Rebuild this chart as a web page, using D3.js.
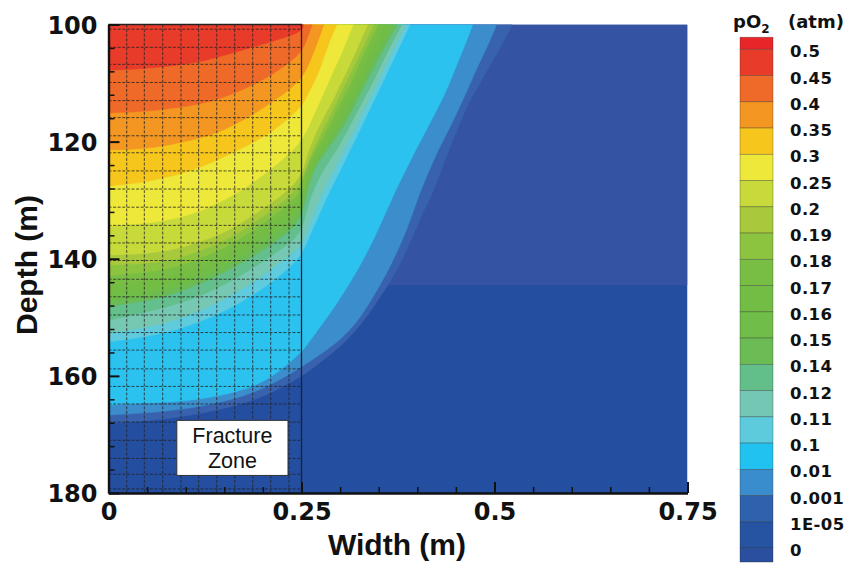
<!DOCTYPE html>
<html>
<head>
<meta charset="utf-8">
<script src="https://cdn.jsdelivr.net/npm/d3@7"></script>
<style>
  html, body { margin: 0; padding: 0; background: #fff; }
  svg { display: block; }
  .num { font-family: "DejaVu Sans", sans-serif; font-weight: bold; fill: #111; }
  .ttl { font-family: "Liberation Sans", Arial, sans-serif; font-weight: bold; fill: #111; }
  .note { font-family: "Liberation Sans", Arial, sans-serif; fill: #111; }
</style>
</head>
<body>
<svg id="chart" width="857" height="566"></svg>
<script>
// pO2 contour levels (atm); each level's colour fills the region where pO2 exceeds it
const levels = [1e-5, 0.001, 0.01, 0.1, 0.11, 0.12, 0.14, 0.15, 0.16, 0.17, 0.18, 0.19, 0.2, 0.25, 0.3, 0.35, 0.4, 0.45];
const levelColors = ["#3862ad", "#3b8dcb", "#2cc2ef", "#5fcbdd", "#76c8b3", "#63bf8b", "#6bbc55", "#70bd49",
                     "#74bd45", "#79be44", "#8cc440", "#a7c93b", "#c8da3a", "#ede83a", "#f7c61d", "#f39622",
                     "#ef6a28", "#e83b2a"];

// isolines as [width (m), depth (m)], traced from the top edge down to the left boundary
const iso_1e5 = [[0.523,100],[0.510,103.5],[0.494,106.9],[0.481,110.3],[0.468,112.9],[0.454,117.2],[0.441,121.4],[0.429,125.7],[0.419,129.1],[0.407,132.2],[0.394,136.3],[0.382,139.7],[0.369,143.1],[0.352,146.5],[0.335,149.9],[0.317,152.7],[0.300,155.1],[0.275,157.6],[0.25,160.2],[0.209,163.1],[0.170,165.0],[0.119,166.5],[0.067,167.5],[0.028,167.9],[0,168.2]];
const iso_1e3 = [[0.503,100],[0.492,103.5],[0.479,106.9],[0.468,110.3],[0.459,112.9],[0.444,117.2],[0.427,121.4],[0.413,125.7],[0.401,129.5],[0.388,134.6],[0.375,138.5],[0.361,142.4],[0.343,146.5],[0.324,150.5],[0.304,153.4],[0.283,155.6],[0.25,158.5],[0.209,161.7],[0.170,163.8],[0.119,165.3],[0.067,166.2],[0.028,166.5],[0,166.7]];
const iso_1e2 = [[0.472,100],[0.462,103.5],[0.451,106.9],[0.441,110.3],[0.432,112.9],[0.415,117.2],[0.398,121.4],[0.382,125.7],[0.371,128.6],[0.359,132.2],[0.345,136.3],[0.330,140.2],[0.313,144.1],[0.293,148.2],[0.274,151.7],[0.257,154.7],[0.25,156.0],[0.209,160.7],[0.170,162.7],[0.119,164.1],[0.067,164.6],[0.028,164.8],[0,165.0]];
const iso_010 = [[0.391,100],[0.378,103.5],[0.366,106.9],[0.354,110.3],[0.344,112.9],[0.326,118.0],[0.313,121.4],[0.301,124.8],[0.287,128.3],[0.274,132.2],[0.261,135.9],[0.25,139.7],[0.222,142.9],[0.196,145.5],[0.157,148.6],[0.119,150.8],[0.080,152.5],[0.041,153.5],[0,154.2]];
const iso_011 = [[0.385,100],[0.372,103.5],[0.359,106.9],[0.348,110.3],[0.337,112.9],[0.319,118.0],[0.305,121.4],[0.293,124.8],[0.278,128.3],[0.265,132.5],[0.255,135.9],[0.25,138.0],[0.222,140.7],[0.196,143.3],[0.157,146.5],[0.119,148.9],[0.080,150.8],[0.041,152.0],[0,152.7]];
const iso_012 = [[0.380,100],[0.366,103.5],[0.353,106.9],[0.341,110.3],[0.330,112.9],[0.310,118.0],[0.296,121.4],[0.278,124.8],[0.265,128.3],[0.256,131.7],[0.25,135.9],[0.222,138.5],[0.196,140.9],[0.157,144.0],[0.119,146.4],[0.080,148.1],[0.041,149.4],[0,150.5]];
const iso_014 = [[0.374,100],[0.359,103.5],[0.345,106.9],[0.332,110.3],[0.322,112.9],[0.312,115.5],[0.302,118.0],[0.283,121.4],[0.265,124.8],[0.256,128.3],[0.25,133.7],[0.222,136.5],[0.196,138.9],[0.157,141.9],[0.119,144.3],[0.080,146.2],[0.041,147.4],[0,148.1]];
const iso_015 = [[0.369,100],[0.353,103.5],[0.340,106.9],[0.327,110.3],[0.317,112.9],[0.306,115.5],[0.292,119.0],[0.271,122.8],[0.260,126.9],[0.25,132.5],[0.222,135.3],[0.196,137.8],[0.157,140.9],[0.119,143.5],[0.080,145.3],[0.041,146.5],[0,147.0]];
const iso_016 = [[0.362,100],[0.348,103.5],[0.335,106.9],[0.323,110.3],[0.313,112.9],[0.302,115.5],[0.287,119.2],[0.269,122.8],[0.257,126.6],[0.25,131.3],[0.222,134.2],[0.196,136.8],[0.157,140.0],[0.119,142.4],[0.080,144.5],[0.041,145.3],[0,145.9]];
const iso_017 = [[0.357,100],[0.343,103.5],[0.330,106.9],[0.318,110.3],[0.308,112.9],[0.297,115.5],[0.283,119.2],[0.266,122.8],[0.256,125.9],[0.25,130.1],[0.222,133.0],[0.196,135.6],[0.157,139.0],[0.119,141.4],[0.080,143.1],[0.041,144.0],[0,144.5]];
const iso_018 = [[0.350,100],[0.336,103.5],[0.324,106.9],[0.313,110.3],[0.302,112.9],[0.292,115.5],[0.278,119.2],[0.262,122.8],[0.253,125.2],[0.25,128.9],[0.222,131.8],[0.196,134.4],[0.157,137.8],[0.119,140.0],[0.080,141.8],[0.041,142.4],[0,142.9]];
const iso_019 = [[0.344,100],[0.331,103.5],[0.319,106.9],[0.306,110.3],[0.297,112.9],[0.287,115.5],[0.273,119.2],[0.260,122.6],[0.25,127.6],[0.222,130.7],[0.196,133.2],[0.157,136.6],[0.119,138.7],[0.080,140.4],[0.041,140.9],[0,141.1]];
const iso_020 = [[0.336,100],[0.324,103.5],[0.313,106.9],[0.300,110.3],[0.291,112.9],[0.280,115.5],[0.267,118.9],[0.257,122.3],[0.25,126.2],[0.222,129.5],[0.196,131.8],[0.157,135.3],[0.119,137.1],[0.080,138.7],[0.041,139.2],[0,139.4]];
const iso_025 = [[0.317,100],[0.304,104.4],[0.293,107.4],[0.278,112.0],[0.264,116.0],[0.25,120.2],[0.222,123.5],[0.196,126.2],[0.157,129.6],[0.119,132.0],[0.080,133.4],[0.041,134.1],[0,134.4]];
const iso_030 = [[0.296,100],[0.284,103.5],[0.274,107.8],[0.261,111.2],[0.25,114.3],[0.222,117.2],[0.209,118.6],[0.170,121.4],[0.119,124.5],[0.080,126.0],[0.041,127.1],[0,127.6]];
const iso_035 = [[0.279,100],[0.271,103.0],[0.261,106.4],[0.25,109.5],[0.222,112.4],[0.183,115.8],[0.144,118.4],[0.119,119.4],[0.080,120.6],[0.041,121.3],[0,121.4]];
const iso_040 = [[0.264,100],[0.257,102.6],[0.25,104.9],[0.222,107.8],[0.183,110.7],[0.144,112.7],[0.119,113.6],[0.080,114.4],[0.041,114.9],[0,115.1]];
const iso_045 = [[0.253,100],[0.25,101.3],[0.222,102.5],[0.183,104.0],[0.144,105.5],[0.119,106.4],[0.080,107.1],[0.041,107.6],[0,107.8]];

const isolines = [iso_1e5, iso_1e3, iso_1e2, iso_010, iso_011, iso_012, iso_014, iso_015, iso_016,
                  iso_017, iso_018, iso_019, iso_020, iso_025, iso_030, iso_035, iso_040, iso_045];

// near-zero background: the full domain, and its upper block above 144.5 m
const baseDepths = [[100, 180], [100, 144.5]];
const baseColors = ["#244ea0", "#3553a3"];

// computational mesh lines inside the fracture zone
const meshX = [0.0236, 0.0464, 0.0702, 0.0939, 0.1168, 0.1402, 0.1635, 0.1868, 0.2101, 0.2338];
const meshDepth = [100.8, 103.9, 106.8, 109.9, 113.0, 115.9, 119.0, 121.9, 125.0, 128.1, 131.2, 134.3, 137.3,
                   140.3, 143.5, 146.5, 149.6, 152.6, 155.6, 158.8, 161.8, 164.8, 167.9, 171.0, 174.1, 176.8, 179.3];
const fractureWidth = 0.25;

// axes
const xMajor = [0, 0.25, 0.5, 0.75];
const xTickLabels = ["0", "0.25", "0.5", "0.75"];
const xMinor = [0.05, 0.1, 0.15, 0.2, 0.3, 0.35, 0.4, 0.45, 0.55, 0.6, 0.65, 0.7];
const yMajor = [100, 120, 140, 160, 180];
const yTickLabels = ["100", "120", "140", "160", "180"];
const yMinor = [104, 108, 112, 116, 124, 128, 132, 136, 144, 148, 152, 156, 164, 168, 172, 176];

// colour bar
const legendLabels = ["0.5", "0.45", "0.4", "0.35", "0.3", "0.25", "0.2", "0.19", "0.18", "0.17", "0.16",
                      "0.15", "0.14", "0.12", "0.11", "0.1", "0.01", "0.001", "1E-05", "0"];
const legendColors = ["#e8262a", "#e83b2a", "#ef6a28", "#f39622", "#f7c61d", "#ede83a", "#c8da3a", "#a7c93b",
                      "#8cc440", "#79be44", "#74bd45", "#70bd49", "#6bbc55", "#62bf8a", "#74c7b2", "#5dcbdc",
                      "#22c2f0", "#3a8dcc", "#2e62ad", "#2653a2", "#2a4f9e"];

const svg = d3.select("#chart");
const x = d3.scaleLinear().domain([0, 0.75]).range([108.5, 687.5]);
const y = d3.scaleLinear().domain([100, 180]).range([24.5, 493]);

svg.append("defs").append("clipPath").attr("id", "plotClip")
  .append("rect")
  .attr("x", x(0)).attr("y", y(100))
  .attr("width", x(0.75) - x(0)).attr("height", y(180) - y(100));

// filled contour field
const field = svg.append("g").attr("clip-path", "url(#plotClip)");
field.selectAll("rect.base").data(baseDepths).join("rect")
  .attr("class", "base")
  .attr("x", x(0)).attr("width", x(0.75) - x(0))
  .attr("y", d => y(d[0])).attr("height", d => y(d[1]) - y(d[0]))
  .attr("fill", (d, i) => baseColors[i]);

const isoLine = d3.line()
  .x(d => x(d[0])).y(d => y(d[1]))
  .curve(d3.curveBasis);

field.selectAll("path.band").data(isolines).join("path")
  .attr("class", "band")
  .attr("d", pts => isoLine(pts) + `L${x(0)},${y(100)}Z`)
  .attr("fill", (d, i) => levelColors[i])
  .attr("stroke", (d, i) => levelColors[i])
  .attr("stroke-width", 0.4);

// fracture-zone mesh
const mesh = svg.append("g")
  .attr("stroke", "#222").attr("stroke-width", 1)
  .attr("stroke-dasharray", "3,1.6").attr("opacity", 0.78);
mesh.selectAll("line.v").data(meshX).join("line")
  .attr("class", "v")
  .attr("x1", d => x(d)).attr("x2", d => x(d))
  .attr("y1", y(100)).attr("y2", y(180));
mesh.selectAll("line.h").data(meshDepth).join("line")
  .attr("class", "h")
  .attr("x1", x(0)).attr("x2", x(fractureWidth))
  .attr("y1", d => y(d)).attr("y2", d => y(d));

// fracture-zone outline
svg.append("path")
  .attr("d", `M${x(0)},${y(100)}H${x(fractureWidth)}V${y(180)}`)
  .attr("fill", "none").attr("stroke", "#222").attr("stroke-width", 1.3);

// label box
const boxX = [0.0885, 0.2325], boxDepth = [167.6, 177.0];
svg.append("rect")
  .attr("x", x(boxX[0])).attr("y", y(boxDepth[0]))
  .attr("width", x(boxX[1]) - x(boxX[0])).attr("height", y(boxDepth[1]) - y(boxDepth[0]))
  .attr("fill", "#fff").attr("stroke", "#333").attr("stroke-width", 1);
const boxMid = (x(boxX[0]) + x(boxX[1])) / 2;
svg.append("text").attr("class", "note").attr("x", boxMid).attr("y", 443)
  .attr("text-anchor", "middle").attr("font-size", 21.5).text("Fracture");
svg.append("text").attr("class", "note").attr("x", boxMid).attr("y", 468)
  .attr("text-anchor", "middle").attr("font-size", 21.5).text("Zone");

// axes
function styleAxis(g, width) {
  g.select(".domain").attr("stroke", "#111").attr("stroke-width", 2.4);
  g.selectAll(".tick line").attr("stroke", "#111").attr("stroke-width", width);
}
const gxMinor = svg.append("g").attr("transform", `translate(0,${y(180)})`)
  .call(d3.axisBottom(x).tickValues(xMinor).tickSizeInner(-6).tickSizeOuter(0).tickFormat(""));
gxMinor.select(".domain").remove();
gxMinor.selectAll(".tick line").attr("stroke", "#111").attr("stroke-width", 1.5);

const gyMinor = svg.append("g").attr("transform", `translate(${x(0)},0)`)
  .call(d3.axisLeft(y).tickValues(yMinor).tickSizeInner(-6).tickSizeOuter(0).tickFormat(""));
gyMinor.select(".domain").remove();
gyMinor.selectAll(".tick line").attr("stroke", "#111").attr("stroke-width", 1.5);

const gx = svg.append("g").attr("transform", `translate(0,${y(180)})`)
  .call(d3.axisBottom(x).tickValues(xMajor).tickSizeInner(-11).tickSizeOuter(0)
    .tickPadding(10).tickFormat((d, i) => xTickLabels[i]));
styleAxis(gx, 2);
gx.selectAll(".tick text").attr("class", "num").attr("font-size", 24).attr("fill", "#111");

const gy = svg.append("g").attr("transform", `translate(${x(0)},0)`)
  .call(d3.axisLeft(y).tickValues(yMajor).tickSizeInner(-11).tickSizeOuter(0)
    .tickPadding(11).tickFormat((d, i) => yTickLabels[i]));
styleAxis(gy, 2);
gy.selectAll(".tick text").attr("class", "num").attr("font-size", 24).attr("fill", "#111").attr("dy", "0.36em");

svg.append("text").attr("class", "ttl").attr("font-size", 30)
  .attr("x", 397).attr("y", 555).attr("text-anchor", "middle").text("Width (m)");
svg.append("text").attr("class", "ttl").attr("font-size", 30)
  .attr("transform", "translate(37,265) rotate(-90)").attr("text-anchor", "middle").text("Depth (m)");

// colour bar
const ly = d3.scaleLinear().domain([0, legendLabels.length - 1]).range([49.3, 548.1]);
const swatchTop = i => i === 0 ? ly(-0.46) : ly(i - 1);
const swatchBottom = i => i === legendColors.length - 1 ? ly(legendLabels.length - 1 + 0.53) : ly(i);
const legend = svg.append("g");
legend.selectAll("rect").data(legendColors).join("rect")
  .attr("x", 740).attr("width", 33)
  .attr("y", (d, i) => swatchTop(i))
  .attr("height", (d, i) => swatchBottom(i) - swatchTop(i))
  .attr("fill", d => d)
  .attr("stroke", "rgba(40,40,40,0.45)").attr("stroke-width", 0.7);
legend.selectAll("text").data(legendLabels).join("text")
  .attr("class", "num").attr("font-size", 16.5).attr("letter-spacing", 0.4)
  .attr("x", 790).attr("y", (d, i) => ly(i) + 8)
  .text(d => d);

const title = svg.append("text").attr("class", "num").attr("x", 733).attr("y", 28).attr("font-size", 18);
title.append("tspan").text("pO");
title.append("tspan").attr("font-size", 12).attr("dy", 5).text("2");
title.append("tspan").attr("x", 788).attr("dy", -5).text("(atm)");
</script>
</body>
</html>
